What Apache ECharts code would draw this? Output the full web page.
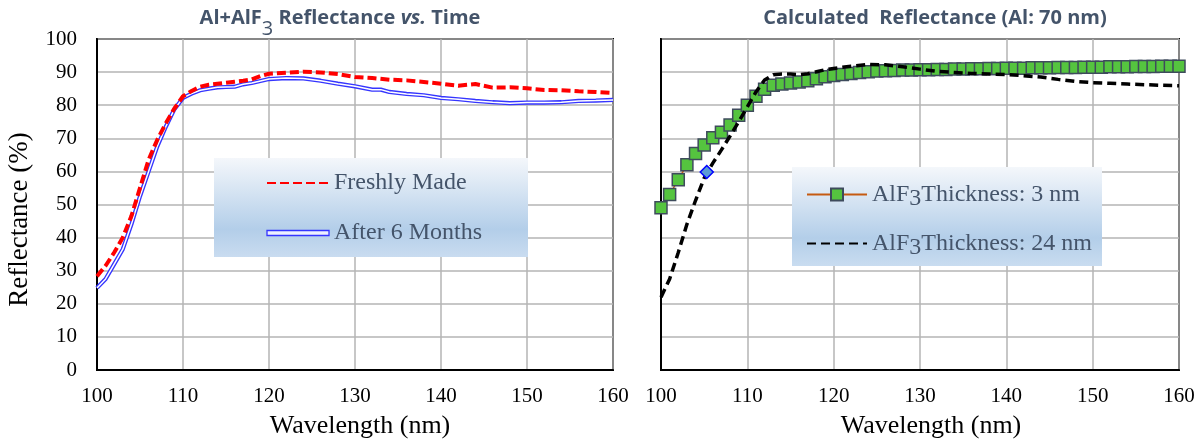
<!DOCTYPE html>
<html>
<head>
<meta charset="utf-8">
<title>Al+AlF3 Reflectance</title>
<script src="https://cdn.jsdelivr.net/npm/echarts@6.0.0/dist/echarts.min.js"></script>
<style>
html, body { margin: 0; padding: 0; background: #fff; }
#chart { width: 1202px; height: 444px; }
</style>
</head>
<body>
<div id="chart"></div>
<script>
// left panel: measured reflectance (%) vs wavelength (nm)
const freshWl = [100, 101, 102, 103, 104, 105, 106, 107, 108, 109, 110, 111, 112, 113, 114, 115, 116, 117, 118, 119, 120,
  122, 124, 126, 128, 130, 132, 134, 136, 138, 140, 142, 144, 146, 148, 150, 152, 154, 156, 158, 160];
const freshR = [28.3, 31.5, 35.5, 40, 46.5, 55, 63.5, 69.5, 74.5, 79, 82.7, 84.3, 85.6, 86.2, 86.5, 86.8, 87.1, 87.4, 87.8, 88.8, 89.5,
  89.8, 90.1, 89.9, 89.4, 88.5, 88.2, 87.7, 87.5, 87.0, 86.5, 85.9, 86.4, 85.3, 85.4, 85.1, 84.6, 84.5, 84.2, 84.0, 83.7];
const agedWl = [100, 101, 102, 103, 104, 105, 106, 107, 108, 109, 110, 111, 112, 113, 114, 115, 116, 117, 118, 119, 120,
  122, 124, 126, 128, 130, 132, 133, 134, 136, 138, 140, 142, 144, 146, 148, 150, 152, 154, 156, 158, 160];
const agedR = [24.8, 27.5, 32, 36.5, 44, 52.5, 60, 67.5, 73.5, 78.8, 82.2, 83.5, 84.5, 85, 85.4, 85.5, 85.6, 86.3, 86.7, 87.3, 87.9,
  88.2, 88.1, 87.4, 86.5, 85.7, 84.7, 84.7, 84, 83.4, 83, 82.2, 81.8, 81.3, 80.9, 80.6, 80.8, 80.8, 80.9, 81.3, 81.4, 81.6];

// right panel: calculated reflectance, AlF3 3 nm (squares) and 24 nm (dashed)
const thinWl = [100, 101, 102, 103, 104, 105, 106, 107, 108, 109, 110, 111, 112, 113, 114, 115, 116, 117, 118, 119, 120,
  121, 122, 123, 124, 125, 126, 127, 128, 129, 130, 131, 132, 133, 134, 135, 136, 137, 138, 139, 140,
  141, 142, 143, 144, 145, 146, 147, 148, 149, 150, 151, 152, 153, 154, 155, 156, 157, 158, 159, 160];
const thinR = [49, 53, 57.5, 62, 65.4, 68, 70.2, 71.8, 74, 77, 80, 82.7, 84.8, 86, 86.4, 86.7, 87, 87.4, 88, 88.6, 89,
  89.3, 89.6, 89.9, 90.1, 90.3, 90.4, 90.5, 90.6, 90.6, 90.7, 90.7, 90.8, 90.8, 90.9, 90.9, 91.0, 91.0, 91.1, 91.1, 91.2,
  91.2, 91.2, 91.3, 91.3, 91.3, 91.4, 91.4, 91.4, 91.5, 91.5, 91.5, 91.6, 91.6, 91.6, 91.7, 91.7, 91.7, 91.8, 91.8, 91.8];
const thickWl = [100, 101, 102, 103, 104, 105, 106, 107, 108, 109, 110, 111, 112, 113, 114, 115, 116, 117, 118, 119, 120,
  122, 124, 126, 128, 130, 132, 134, 136, 138, 140, 142, 144, 146, 148, 150, 152, 154, 156, 158, 160];
const thickR = [22, 27.5, 35.5, 44, 51.2, 58, 62.5, 66.5, 70.7, 75, 79.5, 84, 87.6, 89.2, 89.4, 89.4, 89.2, 89.5, 90.1, 90.7, 91.1,
  91.8, 92.3, 92.2, 91.6, 90.9, 90.2, 89.9, 89.6, 89.4, 89.3, 88.9, 88.5, 87.8, 87.2, 86.8, 86.6, 86.4, 86.2, 86, 85.9];
const markWl = [105.3];
const markR = [59.8];

function pairs(xs, ys) {
  return xs.map((x, i) => [x, ys[i]]);
}

const serif = "'Liberation Serif', 'DejaVu Serif', serif";
const sans = "'Open Sans', Lato, sans-serif";
const textGrey = "#44546a";

function xAxisCfg(idx) {
  return {
    type: "value",
    gridIndex: idx,
    min: 100,
    max: 160,
    interval: 10,
    axisLine: { show: true, onZero: false, lineStyle: { color: "#000", width: 2 } },
    axisTick: { show: false },
    axisLabel: { color: "#000", fontFamily: serif, fontSize: 21, margin: 16 },
    splitLine: { lineStyle: { color: "#b4b4b4", width: 1.5 } },
    name: "Wavelength (nm)",
    nameLocation: "middle",
    nameGap: 43,
    nameTextStyle: { color: "#000", fontFamily: serif, fontSize: 26, padding: [0, 0, 0, idx === 0 ? 10 : 22] }
  };
}

function yAxisCfg(idx) {
  return {
    type: "value",
    gridIndex: idx,
    min: 0,
    max: 100,
    interval: 10,
    axisLine: { show: true, onZero: false, lineStyle: { color: "#000", width: 2 } },
    axisTick: { show: false },
    axisLabel: { show: idx === 0, color: "#000", fontFamily: serif, fontSize: 21, margin: 20 },
    splitLine: { lineStyle: { color: "#b4b4b4", width: 1.5 } },
    name: idx === 0 ? "Reflectance (%)" : "",
    nameLocation: "middle",
    nameGap: 64,
    nameTextStyle: { color: "#000", fontFamily: serif, fontSize: 27, padding: [0, 30, 0, 0] }
  };
}

const legendBg = new echarts.graphic.LinearGradient(0, 0, 0, 1, [
  { offset: 0, color: "#f4f7fb" },
  { offset: 0.72, color: "#b3cee9" },
  { offset: 1, color: "#c9dcf0" }
]);

const titleRich = {
  b: { fontFamily: sans, fontWeight: "bold", fontSize: 20, color: textGrey, lineHeight: 22 },
  i: { fontFamily: sans, fontWeight: "bold", fontStyle: "italic", fontSize: 20, color: textGrey, lineHeight: 22 },
  s: { fontFamily: sans, fontWeight: "normal", fontSize: 20, color: textGrey, lineHeight: 22, padding: [22, 0, 0, 0] }
};

const option = {
  animation: false,
  backgroundColor: "#fff",
  title: [
    {
      text: "{b|Al+AlF}{s|3}{b| Reflectance }{i|vs.}{b| Time}",
      left: 340,
      top: 7,
      padding: 0,
      textAlign: "center",
      textStyle: { rich: titleRich }
    },
    {
      text: "{b|Calculated  Reflectance (Al: 70 nm)}",
      left: 935,
      top: 7,
      padding: 0,
      textAlign: "center",
      textStyle: { rich: titleRich }
    }
  ],
  grid: [
    { left: 97, top: 39, width: 516, height: 332, show: true, borderColor: "#000", borderWidth: 2 },
    { left: 661, top: 39, width: 518, height: 332, show: true, borderColor: "#000", borderWidth: 2 }
  ],
  xAxis: [xAxisCfg(0), xAxisCfg(1)],
  yAxis: [yAxisCfg(0), yAxisCfg(1)],
  legend: [
    {
      orient: "vertical",
      left: 214,
      top: 158,
      padding: [12, 46, 11, 52],
      itemWidth: 62,
      itemHeight: 5,
      itemGap: 24,
      backgroundColor: legendBg,
      textStyle: { color: textGrey, fontFamily: serif, fontSize: 24, lineHeight: 26 },
      data: [
        { name: "Freshly Made", itemStyle: { opacity: 0 } },
        { name: "After 6 Months", icon: "rect", itemStyle: { color: "#eef0ff", borderColor: "#3535ff", borderWidth: 1.3 } }
      ]
    },
    {
      orient: "vertical",
      left: 792,
      top: 167,
      padding: [11, 10, 6, 14],
      itemWidth: 60,
      itemHeight: 15,
      itemGap: 16,
      backgroundColor: legendBg,
      textStyle: {
        color: textGrey,
        fontFamily: serif,
        fontSize: 24,
        rich: {
          t: { color: textGrey, fontFamily: serif, fontSize: 24, lineHeight: 26 },
          s: { color: textGrey, fontFamily: serif, fontSize: 24, lineHeight: 26, padding: [9, 0, 0, 0] }
        }
      },
      formatter: function (n) {
        return "{t|AlF}{s|3}{t|" + n.slice(5) + "}";
      },
      data: [
        { name: "AlF3 Thickness: 3 nm" },
        { name: "AlF3 Thickness: 24 nm", itemStyle: { opacity: 0 } }
      ]
    }
  ],
  series: [
    {
      name: "After 6 Months",
      type: "line",
      xAxisIndex: 0,
      yAxisIndex: 0,
      symbol: "none",
      lineStyle: { color: "#3535ff", width: 4.2 },
      itemStyle: { color: "#3535ff" },
      data: pairs(agedWl, agedR),
      z: 3
    },
    {
      name: "After 6 Months core",
      type: "line",
      xAxisIndex: 0,
      yAxisIndex: 0,
      symbol: "none",
      silent: true,
      lineStyle: { color: "#ffffff", width: 1.5 },
      data: pairs(agedWl, agedR),
      z: 3
    },
    {
      name: "Freshly Made",
      type: "line",
      xAxisIndex: 0,
      yAxisIndex: 0,
      symbol: "none",
      lineStyle: { color: "#ff0000", width: 4, type: [9, 4] },
      itemStyle: { color: "#ff0000" },
      data: pairs(freshWl, freshR),
      z: 4
    },
    {
      name: "AlF3 Thickness: 3 nm",
      type: "line",
      xAxisIndex: 1,
      yAxisIndex: 1,
      symbol: "rect",
      symbolSize: 12,
      lineStyle: { color: "#c55a11", width: 1.5 },
      itemStyle: { color: "#55c43f", borderColor: "#3e4b5c", borderWidth: 1.5 },
      data: pairs(thinWl, thinR),
      z: 3
    },
    {
      name: "AlF3 Thickness: 24 nm",
      type: "line",
      xAxisIndex: 1,
      yAxisIndex: 1,
      symbol: "none",
      lineStyle: { color: "#000", width: 3.5, type: [9, 5] },
      itemStyle: { color: "#000" },
      data: pairs(thickWl, thickR),
      z: 4
    },
    {
      name: "marker",
      type: "scatter",
      xAxisIndex: 1,
      yAxisIndex: 1,
      symbol: "diamond",
      symbolSize: 13,
      itemStyle: { color: "#5b9bd5", borderColor: "#0000ff", borderWidth: 1.5, opacity: 1 },
      data: pairs(markWl, markR),
      z: 5
    }
  ]
};

const chart = echarts.init(document.getElementById("chart"));
chart.setOption(option);
</script>
</body>
</html>
